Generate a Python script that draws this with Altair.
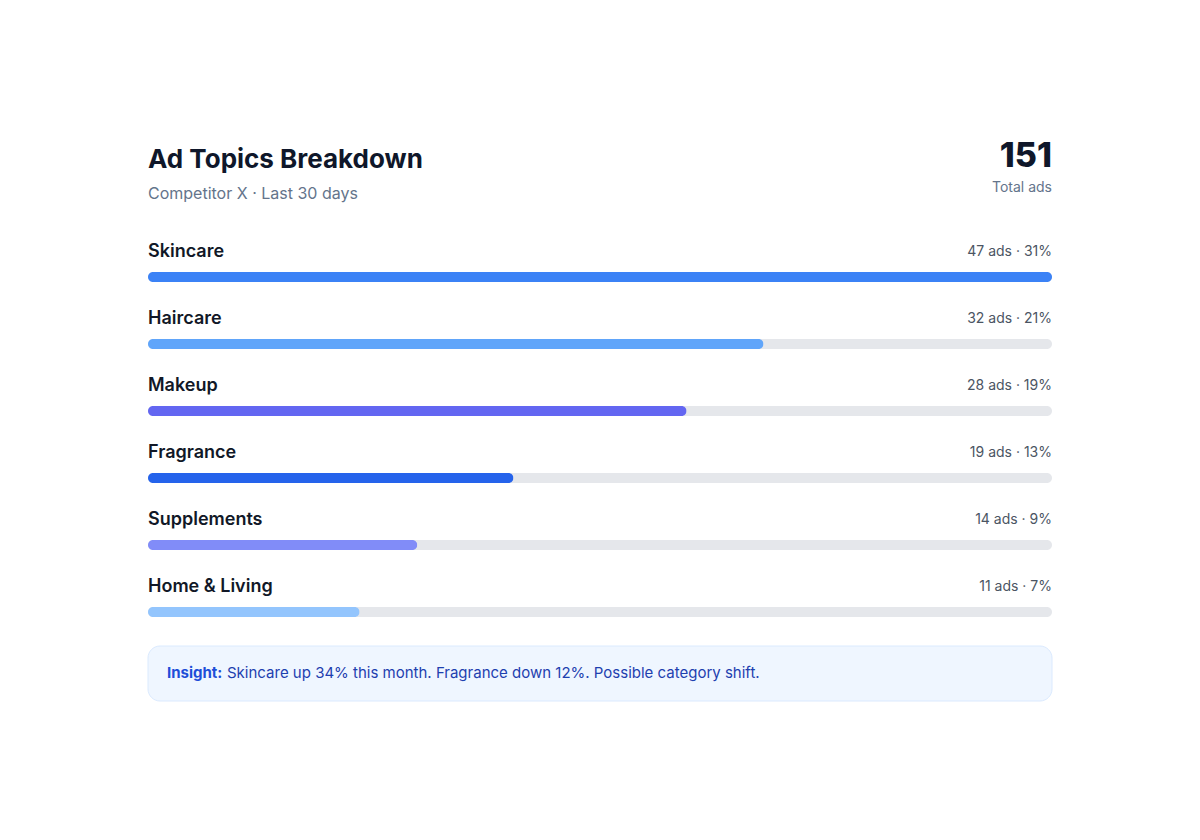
import altair as alt
import pandas as pd

topics = ["Skincare", "Haircare", "Makeup", "Fragrance", "Supplements", "Home & Living"]
ads = [47, 32, 28, 19, 14, 11]
pcts = [31, 21, 19, 13, 9, 7]
colors = ["#3b82f6", "#60a5fa", "#6366f1", "#2563eb", "#818cf8", "#93c5fd"]
total_ads = 151

FONT = "Inter"
W, H = 904, 580

df = pd.DataFrame({"topic": topics, "ads": ads, "pct": pcts, "color": colors})
df["track"] = max(ads)
df["label"] = [f"{a} ads · {p}%" for a, p in zip(ads, pcts)]

x_scale = alt.Scale(domain=[0, max(ads)], range=[0, W], nice=False, zero=True)
y_scale = alt.Scale(type="point", domain=topics, range=[146, 146 + 67 * 5], padding=0)

base = alt.Chart(df).encode(
    y=alt.Y("topic:N", scale=y_scale, axis=None),
)

track = base.mark_bar(size=10, cornerRadius=5, color="#e5e7eb").encode(
    x=alt.X("track:Q", scale=x_scale, axis=None),
)

bars = base.mark_bar(size=10, cornerRadius=5).encode(
    x=alt.X("ads:Q", scale=x_scale, axis=None),
    color=alt.Color("color:N", scale=None, legend=None),
)

names = base.mark_text(align="left", baseline="middle", dy=-25, font=FONT,
                       fontSize=18, fontWeight=600, color="#111827").encode(
    x=alt.value(0),
    text="topic:N",
)

counts = base.mark_text(align="right", baseline="middle", dy=-25, font=FONT,
                        fontSize=14, color="#4b5563").encode(
    x=alt.value(W),
    text="label:N",
)

one = alt.Chart(pd.DataFrame({"k": [0]}))

title = one.mark_text(align="left", baseline="middle", font=FONT, fontSize=26,
                      fontWeight=700, color="#0f172a", text="Ad Topics Breakdown").encode(
    x=alt.value(0), y=alt.value(29))
subtitle = one.mark_text(align="left", baseline="middle", font=FONT, fontSize=16,
                         color="#64748b", text="Competitor X · Last 30 days").encode(
    x=alt.value(0), y=alt.value(63))
big = one.mark_text(align="right", baseline="middle", font=FONT, fontSize=34,
                    fontWeight=800, color="#0f172a", text=str(total_ads)).encode(
    x=alt.value(W), y=alt.value(26))
big_lbl = one.mark_text(align="right", baseline="middle", font=FONT, fontSize=14,
                        color="#64748b", text="Total ads").encode(
    x=alt.value(W), y=alt.value(57))

box = one.mark_rect(cornerRadius=12, fill="#eff6ff", stroke="#dbeafe", strokeWidth=1).encode(
    x=alt.value(0), x2=alt.value(W), y=alt.value(515), y2=alt.value(570))
insight_b = one.mark_text(align="left", baseline="middle", font=FONT, fontSize=15,
                          fontWeight=700, color="#1d4ed8", text="Insight:").encode(
    x=alt.value(19), y=alt.value(542))
insight_t = one.mark_text(align="left", baseline="middle", font=FONT, fontSize=15,
                          color="#1e40af",
                          text="Skincare up 34% this month. Fragrance down 12%. Possible category shift.").encode(
    x=alt.value(79), y=alt.value(542))

chart = alt.layer(
    title, subtitle, big, big_lbl,
    track, bars, names, counts,
    box, insight_b, insight_t,
).properties(
    width=W, height=H,
    autosize=alt.AutoSizeParams(type="none"),
    padding={"left": 140, "top": 123, "right": 140, "bottom": 121},
    background="white",
).configure_view(strokeWidth=0)

chart.save("out.html", embed_options={"renderer": "svg", "actions": False})
